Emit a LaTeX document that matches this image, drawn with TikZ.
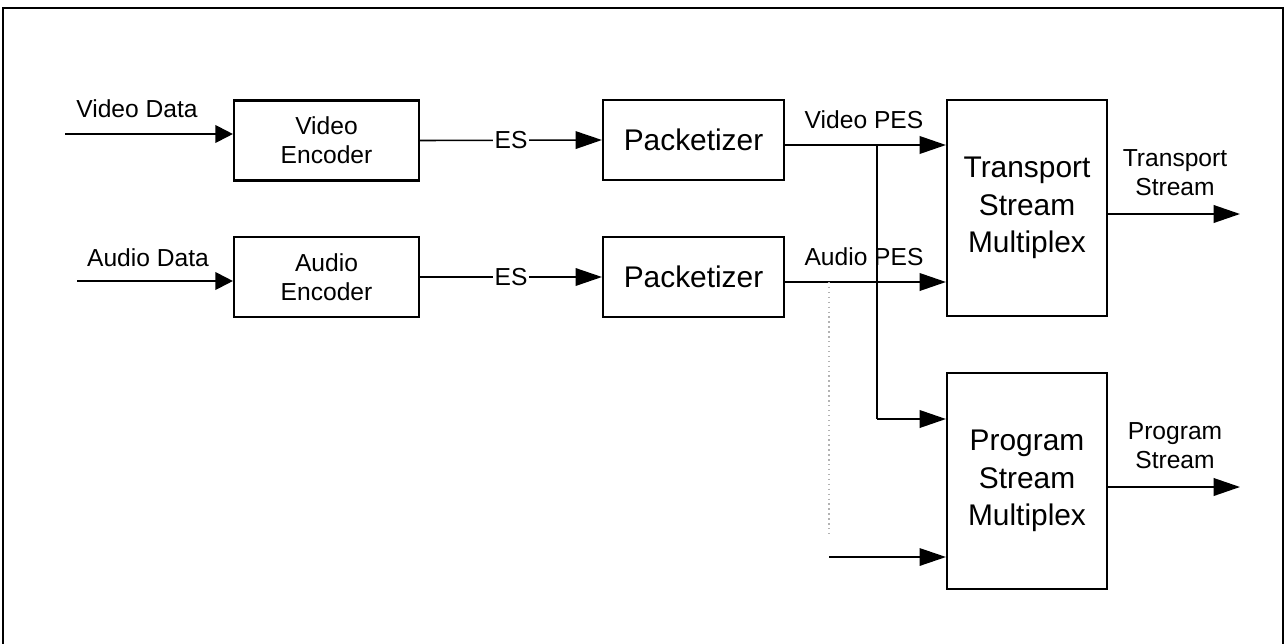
\documentclass[tikz,border=0pt]{standalone}
\usepackage{fontspec}
\setmainfont{Liberation Sans}
\usetikzlibrary{arrows.meta,positioning}

\tikzset{
  block/.style={draw, line width=1.2pt, minimum width=3.7cm, minimum height=1.6cm,
    align=center, font=\fontsize{14}{16.4}\selectfont},
  bigblock/.style={draw, line width=1.2pt, minimum width=3.2cm, minimum height=4.32cm,
    align=center, font=\fontsize{17}{21.5}\selectfont},
  lbl/.style={align=center, font=\fontsize{14}{16.4}\selectfont},
  arr/.style={line width=1.1pt, -{Triangle[length=15pt,width=10pt]}},
  inarr/.style={line width=1.1pt, -{Triangle[length=10pt,width=10pt]}}
}

\begin{document}
\begin{tikzpicture}
  \useasboundingbox (0,0) rectangle (25.76,12.86);

  % Frame round the whole figure
  \draw[line width=1.2pt] (0.06,-0.2) -- (0.06,12.70) -- (25.66,12.70) -- (25.66,-0.2);

  % Encoders and packetizers
  \node[block] (venc) at (6.53,10.05) {Video\\Encoder};
  \node[block] (aenc) at (6.53,7.32) {Audio\\Encoder};
  \node[block, minimum width=3.62cm, font=\fontsize{17}{21.5}\selectfont] (vpkt) at (13.87,10.06) {Packetizer};
  \node[block, minimum width=3.62cm, font=\fontsize{17}{21.5}\selectfont] (apkt) at (13.87,7.32) {Packetizer};

  % Multiplexers
  \node[bigblock] (tsmux) at (20.54,8.70) {Transport\\Stream\\Multiplex};
  \node[bigblock] (psmux) at (20.54,3.24) {Program\\Stream\\Multiplex};

  % Inputs
  \coordinate (vin) at (1.30,10.18);
  \coordinate (ain) at (1.54,7.24);
  \node[lbl] (vdata) at (2.74,10.68) {Video Data};
  \node[lbl] (adata) at (2.96,7.70) {Audio Data};
  \draw[inarr] (vin) -- (vin -| venc.west);
  \draw[inarr] (ain) -- (ain -| aenc.west);

  % Elementary streams
  \draw[arr, line width=0.9pt] (venc.east) -- node[fill=white, lbl, inner sep=1pt] (ves) {ES} (vpkt.west);
  \draw[arr, line width=0.9pt] (aenc.east) -- node[fill=white, lbl, inner sep=1pt] (aes) {ES} (apkt.west);

  % PES to the multiplexers
  \coordinate (vout) at (17.54,9.96);
  \coordinate (aout) at (16.58,7.22);
  \node[lbl] (vpes) at (17.28,10.46) {Video PES};
  \node[lbl] (apes) at (17.28,7.72) {Audio PES};
  \draw[arr] (vout -| vpkt.east) -- (vout -| tsmux.west);
  \draw[arr] (aout -| apkt.east) -- (aout -| tsmux.west);

  % Branches to the program stream
  \coordinate (vdown) at (17.54,4.48);
  \coordinate (adown) at (16.58,1.72);
  \draw[line width=1.1pt] (vout) -- (vdown);
  \draw[arr] (vdown) -- (vdown -| psmux.west);
  \draw[gray!60, dotted, line width=0.8pt] (aout) -- (16.58,2.2);
  \draw[arr, line width=0.8pt] (adown) -- (adown -| psmux.west);

  % Outputs
  \coordinate (tsend) at (24.80,8.58);
  \coordinate (psend) at (24.80,3.12);
  \draw[arr] (tsend -| tsmux.east) -- (tsend);
  \draw[arr] (psend -| psmux.east) -- (psend);
  \node[lbl] (tslbl) at (23.50,9.40) {Transport\\Stream};
  \node[lbl] (pslbl) at (23.50,3.94) {Program\\Stream};
\end{tikzpicture}
\end{document}
